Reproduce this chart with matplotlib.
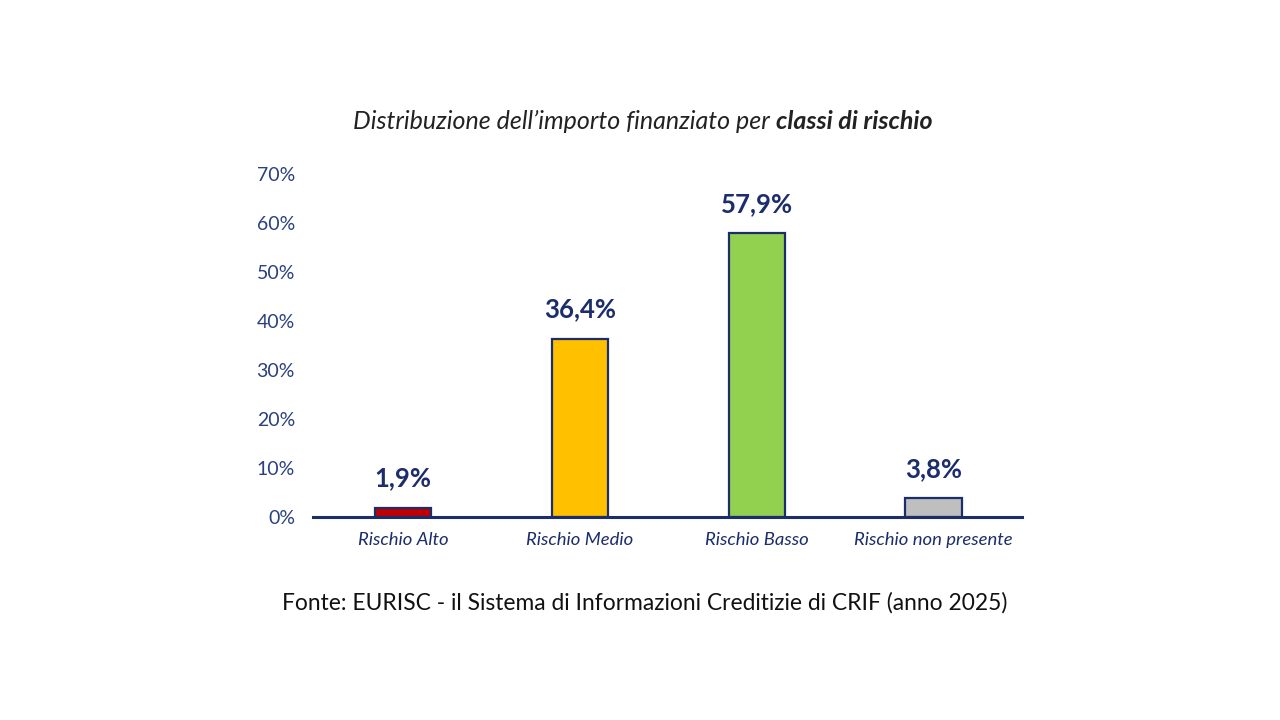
import matplotlib.pyplot as plt

categories = ["Rischio Alto", "Rischio Medio", "Rischio Basso", "Rischio non presente"]
values = [1.9, 36.4, 57.9, 3.8]
value_labels = ["1,9%", "36,4%", "57,9%", "3,8%"]
bar_colors = ["#C00000", "#FFC000", "#92D050", "#BFBFBF"]
yticks = [0, 10, 20, 30, 40, 50, 60, 70]

navy = "#1B2D6B"
tick_blue = "#2A417F"

plt.rcParams['font.family'] = ['Lato', 'DejaVu Sans']

fig = plt.figure(figsize=(12.8, 7.2), dpi=100)
ax = fig.add_axes([0.2445, 0.282, 0.554, 0.476])

x = range(len(categories))
ax.bar(x, values, width=0.32, color=bar_colors, edgecolor=navy, linewidth=1.6, zorder=2)

for i, v in enumerate(values):
    ax.text(i, v + 3.5, value_labels[i], ha='center', va='bottom',
            fontsize=18.5, fontweight='bold', color=navy)

ax.set_xlim(-0.51, 3.5)
ax.set_ylim(0, 70)
ax.set_yticks(yticks)
ax.set_yticklabels([f"{t}%" for t in yticks], fontsize=14, color=tick_blue)
ax.set_xticks(list(x))
ax.set_xticklabels(categories, fontsize=13.3, style='italic', color=navy)
ax.tick_params(axis='both', length=0)
ax.tick_params(axis='y', pad=13)
ax.tick_params(axis='x', pad=11)

for s in ['top', 'right', 'left']:
    ax.spines[s].set_visible(False)
ax.spines['bottom'].set_color(navy)
ax.spines['bottom'].set_linewidth(2.2)

# titolo con parte in grassetto
fig.text(0.606, 0.831, "Distribuzione dell\u2019importo finanziato per ", ha='right', va='center',
         fontsize=18, style='italic', color='#222222')
fig.text(0.606, 0.831, "classi di rischio", ha='left', va='center',
         fontsize=18, style='italic', fontweight='bold', color='#222222')

fig.text(0.504, 0.163, "Fonte: EURISC - il Sistema di Informazioni Creditizie di CRIF (anno 2025)",
         ha='center', va='center', fontsize=16.4, color='#111111')

fig.savefig("out.png", dpi=100, facecolor='white')
